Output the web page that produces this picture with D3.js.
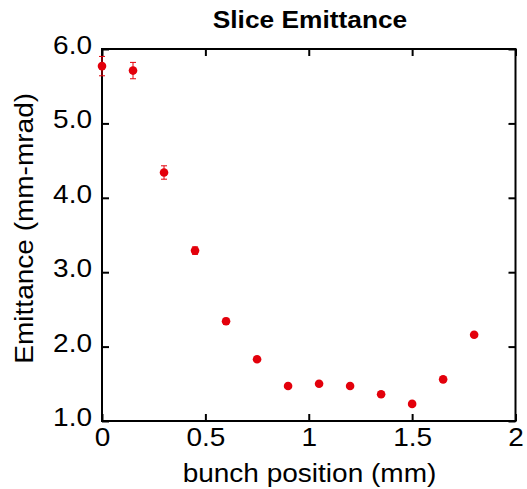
<!DOCTYPE html>
<html><head><meta charset="utf-8">
<script src="https://cdn.jsdelivr.net/npm/d3@7"></script>
<style>body{margin:0;background:#fff}svg{display:block}text{font-family:"Liberation Sans",Arial,sans-serif;fill:#000}</style>
</head><body><svg id="c" width="527" height="489"></svg>
<script>
const positions = [0, 0.15, 0.3, 0.45, 0.6, 0.75, 0.9, 1.05, 1.2, 1.35, 1.5, 1.65, 1.8];
const emittance = [5.77, 5.71, 4.34, 3.29, 2.34, 1.83, 1.47, 1.50, 1.47, 1.36, 1.23, 1.56, 2.16];
const errors = [0.13, 0.11, 0.09, 0.05, 0.04, 0.03, 0.03, 0.03, 0.03, 0.03, 0.03, 0.03, 0.03];
const xTicks = [0, 0.5, 1, 1.5, 2];
const xTickLabels = ["0", "0.5", "1", "1.5", "2"];
const yTicks = [1, 2, 3, 4, 5, 6];
const yTickLabels = ["1.0", "2.0", "3.0", "4.0", "5.0", "6.0"];
const title = "Slice Emittance";
const xTitle = "bunch position (mm)";
const yTitle = "Emittance (mm-mrad)";

const L = 102, R = 515.5, T = 49, B = 421;
const svg = d3.select("#c");
const x = d3.scaleLinear().domain([0, 2]).range([L, R]);
const y = d3.scaleLinear().domain([1, 6]).range([B, T]);
const red = "#e3000b";
const stretch = 1.12;
const FS = 25;

const tk = 7;
const bottomAx = d3.axisBottom(x).tickValues(xTicks).tickSize(-tk).tickFormat((d,i)=>xTickLabels[i]).tickPadding(10);
const topAx = d3.axisTop(x).tickValues(xTicks).tickSize(-tk).tickFormat("");
const leftAx = d3.axisLeft(y).tickValues(yTicks).tickSize(-tk).tickFormat((d,i)=>yTickLabels[i]).tickPadding(10);
const rightAx = d3.axisRight(y).tickValues(yTicks).tickSize(-tk).tickFormat("");

function style(g){
  g.select(".domain").remove();
  g.selectAll(".tick line").attr("stroke","#000").attr("stroke-width",2);
  g.selectAll("text").attr("font-size",FS).attr("font-family",'"Liberation Sans",Arial,sans-serif').attr("fill","#000");
}
const gb = svg.append("g").attr("transform",`translate(0,${B})`).call(bottomAx).call(style);
gb.selectAll("text").attr("dy",null).attr("y",24.5);
svg.append("g").attr("transform",`translate(0,${T})`).call(topAx).call(style);
const gl = svg.append("g").attr("transform",`translate(${L},0)`).call(leftAx).call(style);
gl.selectAll("text").attr("dy",null).attr("y",4.5);
svg.append("g").attr("transform",`translate(${R},0)`).call(rightAx).call(style);

// frame
svg.append("rect").attr("x",L).attr("y",T).attr("width",R-L).attr("height",B-T)
  .attr("fill","none").attr("stroke","#000").attr("stroke-width",2);

// error bars
const eb = svg.append("g").attr("stroke",red).attr("stroke-width",1);
positions.forEach((p,i)=>{
  const cx = x(p), y1 = y(emittance[i]+errors[i]), y2 = y(emittance[i]-errors[i]);
  eb.append("line").attr("x1",cx).attr("x2",cx).attr("y1",y1).attr("y2",y2);
  eb.append("line").attr("x1",cx-3).attr("x2",cx+3).attr("y1",y1).attr("y2",y1);
  eb.append("line").attr("x1",cx-3).attr("x2",cx+3).attr("y1",y2).attr("y2",y2);
});
svg.append("g").selectAll("circle").data(positions).join("circle")
  .attr("cx",d=>x(d)).attr("cy",(d,i)=>y(emittance[i])).attr("r",4.3).attr("fill",red);

// titles
svg.append("text").attr("x",310).attr("y",28.3).attr("text-anchor","middle")
  .attr("font-size",23.5).attr("font-weight","bold").text(title);
svg.append("text").attr("x",309.5).attr("y",481.5).attr("text-anchor","middle")
  .attr("font-size",FS).text(xTitle);
svg.append("text").attr("transform","translate(33,228.3) rotate(-90)").attr("text-anchor","middle")
  .attr("font-size",FS).text(yTitle);

// widen glyphs to match reference
svg.selectAll("text").each(function(){
  const w = this.getComputedTextLength();
  if (w>0) d3.select(this).attr("textLength", w*stretch).attr("lengthAdjust","spacingAndGlyphs");
});
</script></body></html>
